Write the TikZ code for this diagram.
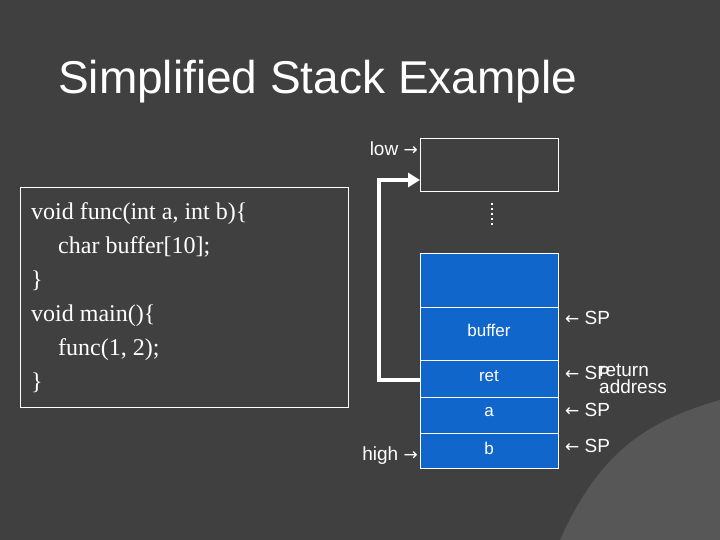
\documentclass[tikz,border=0pt]{standalone}
\usepackage{fontspec}
\setmainfont{Liberation Sans}
\newfontfamily\codefont{Liberation Serif}
\newfontfamily\symfont{DejaVu Sans}
\usetikzlibrary{arrows.meta}
\definecolor{bg}{HTML}{404040}
\definecolor{stk}{HTML}{1166CC}
\begin{document}
\begin{tikzpicture}[x=1pt,y=-1pt,
  cell/.style={draw=white,fill=stk,line width=0.8pt},
  lbl/.style={text=white,font=\fontsize{19}{19}\selectfont,anchor=west,inner sep=0pt},
  cl/.style={text=white,font=\fontsize{17}{18}\selectfont,inner sep=0pt}]
\useasboundingbox (0,0) rectangle (720,540);
\fill[bg] (0,0) rectangle (720,540);
\draw[black!60,line width=1.5pt] (700,0) arc[start angle=0,end angle=-60,radius=900];
\fill[white!12!bg] (720,400) .. controls (650,420) and (600,450) .. (560,540) -- (720,540) -- cycle;
\node[text=white,font=\fontsize{46}{48}\selectfont,anchor=west,inner sep=0pt] (title) at (58,82) {Simplified Stack Example};
\node[draw=white,line width=0.8pt,minimum width=328pt,minimum height=220pt,anchor=north west,inner sep=0pt] (code) at (20,187) {};
\node[text=white,font=\codefont\fontsize{24}{34}\selectfont,anchor=north west,align=left,inner sep=0pt] (codetxt) at (31,202)
{void func(int a, int b)\{\\\hspace*{27pt}char buffer[10];\\\}\\void main()\{\\\hspace*{27pt}func(1, 2);\\\}};
\node[draw=white,line width=0.8pt,minimum width=138pt,minimum height=53pt,anchor=north west,inner sep=0pt] (lowbox) at (420,138) {};
\node[cell,minimum width=138pt,minimum height=54pt,anchor=north west,inner sep=0pt] (top) at (420,253) {};
\node[cell,minimum width=138pt,minimum height=53pt,anchor=north west,inner sep=0pt] (buf) at (420,307) {};
\node[cell,minimum width=138pt,minimum height=37pt,anchor=north west,inner sep=0pt] (ret) at (420,360) {};
\node[cell,minimum width=138pt,minimum height=36pt,anchor=north west,inner sep=0pt] (a) at (420,397) {};
\node[cell,minimum width=138pt,minimum height=35pt,anchor=north west,inner sep=0pt] (b) at (420,433) {};
\node[cl] at (489,330) {buffer};
\node[cl] at (489,376) {ret};
\node[cl] at (489,412) {a};
\node[cl] at (489,448) {b};
\draw[white,line width=2.5pt,dash pattern=on 2.5pt off 2.5pt] (492,203) -- (492,227);
\node[lbl,anchor=east] (low) at (418,149) {low {\symfont\fontsize{17}{17}\selectfont →}};
\node[lbl,anchor=east] (high) at (418,456) {high {\symfont\fontsize{17}{17}\selectfont →}};
\coordinate (c1) at (379,380);
\coordinate (c2) at (379,180);
\draw[white,line width=4pt,-{Triangle[length=12pt,width=14pt]}] (ret.west |- c1) -- (c1) -- (c2) -- (lowbox.west |- c2);
\node[lbl] (sp1) at (565,318) {{\symfont\fontsize{17}{17}\selectfont ←} SP};
\node[lbl] (sp2) at (565,373) {{\symfont\fontsize{17}{17}\selectfont ←} SP};
\node[lbl,align=left,anchor=north west] (ra) at (599,364) {return\\[-2pt]address};
\node[lbl] (sp3) at (565,410) {{\symfont\fontsize{17}{17}\selectfont ←} SP};
\node[lbl] (sp4) at (565,446) {{\symfont\fontsize{17}{17}\selectfont ←} SP};
\end{tikzpicture}
\end{document}
